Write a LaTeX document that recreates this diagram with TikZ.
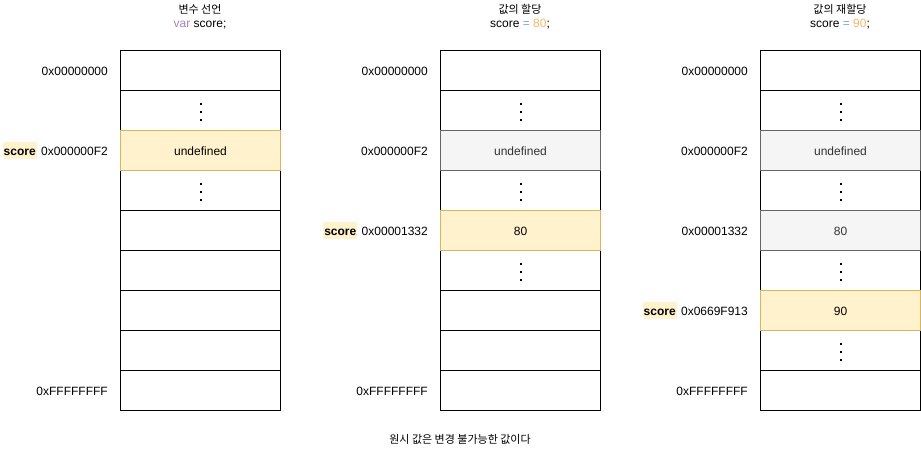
\documentclass[tikz,border=0pt]{standalone}
\usepackage{fontspec}
\setmainfont{Liberation Sans}
\newfontfamily\krfont{Noto Sans CJK KR}
\definecolor{noteyellow}{HTML}{FFF2CC}
\definecolor{notegold}{HTML}{D6B656}
\definecolor{oldfill}{HTML}{F5F5F5}
\definecolor{oldline}{HTML}{666666}
\definecolor{oldtext}{HTML}{333333}
\definecolor{kwpurple}{HTML}{A680B8}
\definecolor{opblue}{HTML}{7EA6E0}
\definecolor{numorange}{HTML}{FFB366}
\begin{document}
\begin{tikzpicture}[x=1pt,y=-1pt,
  every node/.style={font=\fontsize{12}{14}\selectfont, inner sep=0pt, text height=10pt, text depth=0pt},
  cell/.style={draw=black, line width=1pt, minimum width=160pt, minimum height=40pt, anchor=north west},
  livecell/.style={cell, draw=notegold, fill=noteyellow},
  oldcell/.style={cell, draw=oldline, fill=oldfill, text=oldtext},
  addr/.style={anchor=east},
  varname/.style={anchor=east, fill=noteyellow, font=\fontsize{12}{14}\selectfont\bfseries, text depth=1pt, inner xsep=1pt, inner ysep=3pt},
  title/.style={font=\krfont\fontsize{11}{13}\selectfont},
  memdot/.style={fill=black}
]
\useasboundingbox (0,0) rectangle (921,451);

% ---- column 1: declaration ----
\foreach \r in {1,2,4,5,6,7,8,9}
  \node[cell] (a\r) at (120,{10+40*\r}) {};
\node[livecell] (a3) at (120,130) {undefined};

% ---- column 2: first assignment ----
\foreach \r in {1,2,4,6,7,8,9}
  \node[cell] (b\r) at (440,{10+40*\r}) {};
\node[oldcell] (b3) at (440,130) {undefined};
\node[livecell] (b5) at (440,210) {80};

% ---- column 3: reassignment ----
\foreach \r in {1,2,4,6,8,9}
  \node[cell] (c\r) at (760,{10+40*\r}) {};
\node[oldcell] (c3) at (760,130) {undefined};
\node[oldcell] (c5) at (760,210) {80};
\node[livecell] (c7) at (760,290) {90};

% ---- vertical ellipses in skipped cells ----
\foreach \n in {a2,a4,b2,b4,b6,c2,c4,c6,c8}
  \foreach \dy in {-7,1,9}
    \fill[memdot] ([shift={(-1,\dy-1)}]\n.center) rectangle ([shift={(1,\dy+1)}]\n.center);

% ---- titles ----
\node[title] (t1) at (200,8.5) {변수 선언};
\node (s1) at (200,22.5) {\textcolor{kwpurple}{var} score;};
\node[title] (t2) at (520,8.5) {값의 할당};
\node (s2) at (520,22.5) {score \textcolor{opblue}{=} \textcolor{numorange}{80};};
\node[title] (t3) at (840,8.5) {값의 재할당};
\node (s3) at (840,22.5) {score \textcolor{opblue}{=} \textcolor{numorange}{90};};

% ---- addresses, column 1 ----
\node[addr] (la1) at ([xshift=-12pt]a1.west) {0x00000000};
\node[addr] (la3) at ([xshift=-12pt]a3.west) {0x000000F2};
\node[varname] (va3) at ([xshift=-4pt]la3.west) {score};
\node[addr] (la9) at ([xshift=-12pt]a9.west) {0xFFFFFFFF};

% ---- addresses, column 2 ----
\node[addr] (lb1) at ([xshift=-12pt]b1.west) {0x00000000};
\node[addr] (lb3) at ([xshift=-12pt]b3.west) {0x000000F2};
\node[addr] (lb5) at ([xshift=-12pt]b5.west) {0x00001332};
\node[varname] (vb5) at ([xshift=-4pt]lb5.west) {score};
\node[addr] (lb9) at ([xshift=-12pt]b9.west) {0xFFFFFFFF};

% ---- addresses, column 3 ----
\node[addr] (lc1) at ([xshift=-12pt]c1.west) {0x00000000};
\node[addr] (lc3) at ([xshift=-12pt]c3.west) {0x000000F2};
\node[addr] (lc5) at ([xshift=-12pt]c5.west) {0x00001332};
\node[addr] (lc7) at ([xshift=-12pt]c7.west) {0x0669F913};
\node[varname] (vc7) at ([xshift=-4pt]lc7.west) {score};
\node[addr] (lc9) at ([xshift=-12pt]c9.west) {0xFFFFFFFF};

% ---- caption ----
\node[title] (cap) at (460,438) {원시 값은 변경 불가능한 값이다};
\end{tikzpicture}
\end{document}
